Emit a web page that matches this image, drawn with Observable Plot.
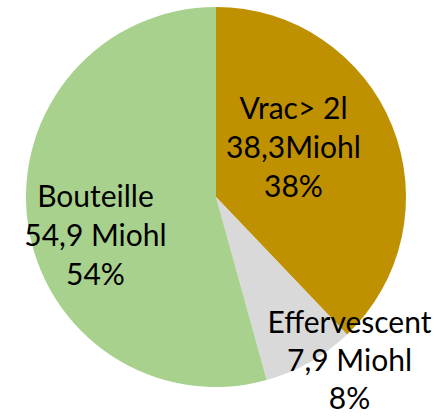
<!DOCTYPE html>
<html><head><meta charset="utf-8">
<script src="https://cdn.jsdelivr.net/npm/d3@7"></script>
<script src="https://cdn.jsdelivr.net/npm/@observablehq/plot@0.6"></script>
<style>body{margin:0;background:#fff}</style>
</head><body><div id="chart"></div>
<script>
const categories = ["Vrac> 2l", "Effervescent", "Bouteille"];
const volumes = [38.3, 7.9, 54.9];
const volumeLabels = ["38,3Miohl", "7,9 Miohl", "54,9 Miohl"];
const percentLabels = ["38%", "8%", "54%"];
const colors = ["#BF9000", "#D9D9D9", "#A9D18E"];
// label anchor layout (unit-circle coordinates)
const labelLayout = [[0.405, 0.274], [0.70, -0.85], [-0.637, -0.19]];

const rows = categories.map((c, i) => ({
  category: c, value: volumes[i],
  label: `${c}\n${volumeLabels[i]}\n${percentLabels[i]}`,
  lx: labelLayout[i][0], ly: labelLayout[i][1]
}));
const arcs = d3.pie().sort(null).value(d => d.value)(rows);

function pieRender(index, scales, values, dimensions) {
  const cx = scales.x(0), cy = scales.y(0);
  const r = scales.x(1) - scales.x(0);
  const arc = d3.arc().innerRadius(0).outerRadius(r);
  const g = d3.create("svg:g").attr("transform", `translate(${cx},${cy})`);
  g.selectAll("path").data(arcs).join("path")
    .attr("d", arc)
    .attr("fill", (d, i) => scales.color(d.data.category));
  return g.node();
}

const plot = Plot.plot({
  width: 442, height: 417,
  marginLeft: 26, marginRight: 36, marginTop: 7, marginBottom: 30,
  x: {domain: [-1, 1], axis: null},
  y: {domain: [-1, 1], axis: null},
  color: {domain: categories, range: colors},
  style: {fontFamily: "Lato, sans-serif", background: "#fff"},
  marks: [
    pieRender,
    Plot.text(rows.slice(0, 1).concat(rows.slice(2)), {x: "lx", y: "ly", text: "label", fontSize: 30, lineHeight: 1.31, fill: "#000", textAnchor: "middle"}),
    Plot.text(rows.slice(1, 2), {x: "lx", y: "ly", text: "label", fontSize: 30, lineHeight: 1.27, fill: "#000", textAnchor: "middle"})
  ]
});
document.getElementById("chart").appendChild(plot);
</script>
</body></html>
